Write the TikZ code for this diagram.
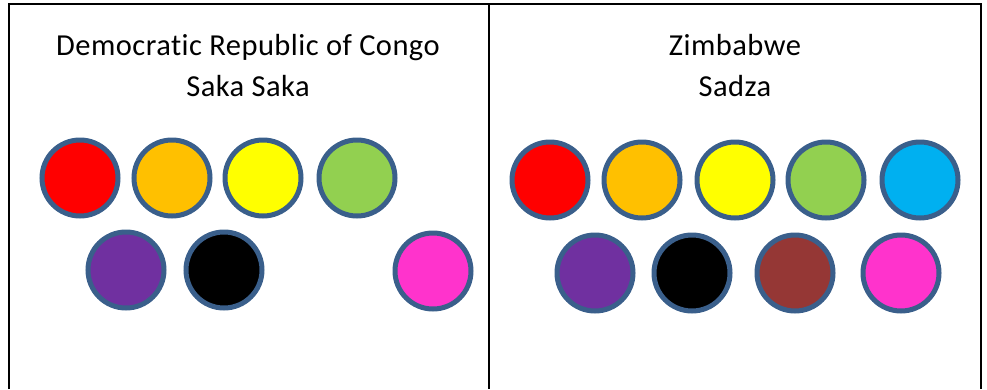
\documentclass[tikz,border=0pt]{standalone}
\usepackage{fontspec}
\setmainfont{Carlito}[Ligatures={NoCommon},LetterSpace=1.5]
\definecolor{cred}{HTML}{FF0000}
\definecolor{corange}{HTML}{FFC000}
\definecolor{cyellow}{HTML}{FFFF00}
\definecolor{cgreen}{HTML}{92D050}
\definecolor{cblue}{HTML}{00B0F0}
\definecolor{cpurple}{HTML}{7030A0}
\definecolor{cblack}{HTML}{000000}
\definecolor{cbrown}{HTML}{953735}
\definecolor{cpink}{HTML}{FF33CC}
\definecolor{cring}{HTML}{3A5F8B}
\begin{document}
\begin{tikzpicture}[x=1pt,y=-1pt,
  dot/.style={circle,draw=cring,line width=5pt,minimum size=76pt,inner sep=0pt},
  frame/.style={line width=2.5pt,black},
  title/.style={anchor=base,font=\fontsize{30.5}{36}\selectfont,inner sep=0pt}]
\useasboundingbox (0,0) rectangle (987,389);
\coordinate (tl) at (9,4);
\coordinate (tm) at (489,4);
\coordinate (tr) at (981,4);
\coordinate (bl) at (9,389);
\coordinate (bm) at (489,389);
\coordinate (br) at (981,389);
\draw[frame] (bl) -- (tl) -- (tr) -- (br);
\draw[frame] (tm) -- (bm);
\node[title] (t1a) at (248,55) {Democratic Republic of Congo};
\node[title] (t1b) at (248,96) {Saka Saka};
\node[title] (t2a) at (735,55) {Zimbabwe};
\node[title] (t2b) at (735,96) {Sadza};
% left
\node[dot,fill=cred] (l1) at (80,178) {};
\node[dot,fill=corange] (l2) at (172,178) {};
\node[dot,fill=cyellow] (l3) at (263,178) {};
\node[dot,fill=cgreen] (l4) at (357,178) {};
\node[dot,fill=cpurple] (l5) at (126,270) {};
\node[dot,fill=cblack] (l6) at (224,270) {};
\node[dot,fill=cpink] (l7) at (433,271) {};
% right
\node[dot,fill=cred] (r1) at (550,180) {};
\node[dot,fill=corange] (r2) at (642,180) {};
\node[dot,fill=cyellow] (r3) at (735,180) {};
\node[dot,fill=cgreen] (r4) at (826,180) {};
\node[dot,fill=cblue] (r5) at (920,180) {};
\node[dot,fill=cpurple] (r6) at (595,273) {};
\node[dot,fill=cblack] (r7) at (692,273) {};
\node[dot,fill=cbrown] (r8) at (795,273) {};
\node[dot,fill=cpink] (r9) at (901,273) {};
\end{tikzpicture}
\end{document}
